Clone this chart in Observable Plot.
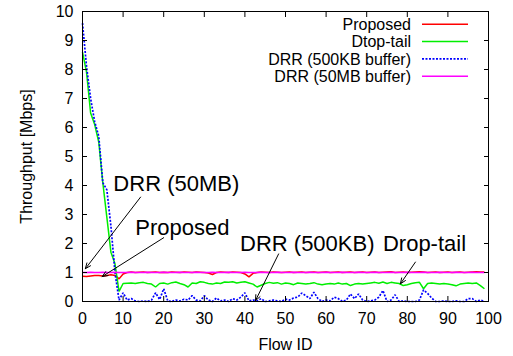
<!DOCTYPE html>
<html>
<head>
<meta charset="utf-8">
<script src="https://cdn.jsdelivr.net/npm/d3@7"></script>
<script src="https://cdn.jsdelivr.net/npm/@observablehq/plot@0.6"></script>
<style>
  html, body { margin: 0; padding: 0; background: #fff; }
  #chart { width: 513px; height: 356px; }
  svg { font-family: "Liberation Sans", Arial, sans-serif; }
</style>
</head>
<body>
<div id="chart"></div>
<script>
// Flow IDs 0..99
const flowIds = d3.range(0, 100);

const proposed = [
  0.87, 0.86, 0.88, 0.90, 0.90, 0.88, 0.90, 0.92, 0.90, 0.78,
  0.95, 1.00, 1.02, 1.00, 1.01, 1.02, 1.00, 1.01, 1.02, 1.00,
  1.01, 1.00, 1.02, 1.01, 1.00, 1.02, 1.01, 1.00, 1.02, 1.01,
  1.00, 0.98, 0.93, 1.00, 1.02, 1.01, 1.00, 1.02, 1.01, 1.00,
  0.95, 0.85, 0.97, 1.00, 1.02, 1.01, 1.00, 1.02, 1.01, 1.00,
  1.01, 1.02, 1.00, 1.01, 1.02, 1.00, 1.01, 1.02, 1.00, 1.01,
  1.02, 1.00, 1.01, 1.02, 1.00, 1.01, 1.02, 1.00, 1.01, 1.02,
  1.00, 1.01, 1.02, 1.00, 1.01, 1.02, 1.03, 1.00, 1.01, 1.02,
  1.00, 1.01, 1.02, 1.03, 1.02, 1.00, 1.01, 1.02, 1.00, 1.01,
  1.02, 1.00, 1.01, 1.02, 1.00, 1.01, 1.02, 1.03, 1.02, 1.02
];

const dropTail = [
  8.60, 7.90, 6.50, 6.10, 5.50, 4.10, 2.90, 1.70, 1.30, 0.35,
  0.62, 0.63, 0.64, 0.62, 0.65, 0.66, 0.62, 0.60, 0.50, 0.62,
  0.64, 0.60, 0.65, 0.67, 0.62, 0.58, 0.50, 0.64, 0.62, 0.68,
  0.66, 0.62, 0.60, 0.64, 0.62, 0.67, 0.66, 0.68, 0.64, 0.66,
  0.68, 0.64, 0.60, 0.50, 0.56, 0.62, 0.66, 0.63, 0.65, 0.60,
  0.64, 0.62, 0.58, 0.64, 0.62, 0.60, 0.62, 0.65, 0.60, 0.58,
  0.60, 0.62, 0.60, 0.64, 0.60, 0.62, 0.55, 0.60, 0.62, 0.60,
  0.62, 0.64, 0.66, 0.63, 0.67, 0.62, 0.66, 0.64, 0.62, 0.55,
  0.58, 0.62, 0.65, 0.66, 0.44, 0.62, 0.64, 0.62, 0.60, 0.62,
  0.60, 0.58, 0.54, 0.60, 0.62, 0.64, 0.62, 0.64, 0.55, 0.44
];

const drr500KB = [
  9.60, 8.10, 7.00, 6.20, 5.70, 4.10, 3.85, 2.60, 1.00, 0.05,
  0.30, 0.05, 0.10, 0.02, 0.00, 0.02, 0.00, 0.05, 0.30, 0.07,
  0.44, 0.02, 0.00, 0.05, 0.02, 0.08, 0.05, 0.20, 0.05, 0.02,
  0.20, 0.05, 0.00, 0.12, 0.02, 0.05, 0.00, 0.10, 0.05, 0.15,
  0.30, 0.02, 0.05, 0.02, 0.10, 0.00, 0.02, 0.05, 0.02, 0.00,
  0.08, 0.05, 0.12, 0.15, 0.29, 0.20, 0.10, 0.32, 0.10, 0.00,
  0.05, 0.02, 0.15, 0.10, 0.00, 0.05, 0.26, 0.10, 0.26, 0.05,
  0.00, 0.02, 0.05, 0.15, 0.38, 0.00, 0.05, 0.23, 0.00, 0.02,
  0.00, 0.00, 0.00, 0.05, 0.40, 0.28, 0.12, 0.00, 0.00, 0.02,
  0.00, 0.00, 0.02, 0.00, 0.00, 0.10, 0.10, 0.00, 0.05, 0.00
];

const drr50MB = [
  1.00, 1.00, 1.01, 1.00, 1.00, 1.01, 1.00, 1.00, 1.01, 1.00,
  1.00, 1.00, 1.01, 1.00, 1.00, 1.00, 1.01, 1.00, 1.00, 1.00,
  1.01, 1.00, 1.00, 1.00, 1.01, 1.00, 1.00, 1.00, 1.01, 1.00,
  1.00, 1.00, 1.01, 1.00, 1.00, 1.00, 1.01, 1.00, 1.00, 1.00,
  1.01, 1.00, 1.00, 1.00, 1.01, 1.00, 1.00, 1.00, 1.01, 1.00,
  1.00, 1.00, 1.01, 1.00, 1.00, 1.00, 1.01, 1.00, 1.00, 1.00,
  1.01, 1.00, 1.00, 1.00, 1.01, 1.00, 1.00, 1.00, 1.01, 1.00,
  1.00, 1.00, 1.01, 1.00, 1.00, 1.00, 1.01, 1.00, 1.00, 1.00,
  1.01, 1.00, 1.00, 1.00, 1.01, 1.00, 1.00, 1.00, 1.01, 1.00,
  1.00, 1.00, 1.01, 1.00, 1.00, 1.00, 1.01, 1.00, 1.00, 1.00
];

const seriesNames = ["Proposed", "Dtop-tail", "DRR (500KB buffer)", "DRR (50MB buffer)"];
const seriesColors = ["#ff0000", "#00ee00", "#0000ff", "#ff00ff"];
const seriesDash = [null, null, "2,1.5", null];
const seriesValues = [proposed, dropTail, drr500KB, drr50MB];

const xTicks = [0, 10, 20, 30, 40, 50, 60, 70, 80, 90, 100];
const yTicks = [0, 1, 2, 3, 4, 5, 6, 7, 8, 9, 10];

// Annotations: label text, label anchor point, arrow start and arrow tip (data coords)
const annLabels = ["DRR (50MB)", "Proposed", "DRR (500KB)", "Drop-tail"];
const annTextX = [7.6, 13.0, 38.8, 74.0];
const annTextY = [4.07, 2.55, 2.0, 2.0];
const annFromX = [14.3, 20.0, 48.3, 82.0];
const annFromY = [3.6, 2.2, 1.64, 1.36];
const annToX = [0.7, 4.85, 42.6, 78.3];
const annToY = [1.13, 0.86, 0.03, 0.61];

const lineData = seriesNames.map((name, i) => ({
  name, color: seriesColors[i], dash: seriesDash[i],
  points: flowIds.map((id, j) => ({id, v: seriesValues[i][j]}))
}));

const annotations = annLabels.map((label, i) => ({
  label, tx: annTextX[i], ty: annTextY[i],
  x1: annFromX[i], y1: annFromY[i], x2: annToX[i], y2: annToY[i]
}));

const fontFamily = '"Liberation Sans", Arial, sans-serif';

const marks = [];
for (const s of lineData) {
  marks.push(Plot.line(s.points, {
    x: "id", y: "v", stroke: s.color, strokeWidth: s.dash ? 1.7 : 1.5,
    strokeDasharray: s.dash || undefined, strokeLinejoin: "miter", strokeLinecap: "butt"
  }));
}
marks.push(
  Plot.arrow(annotations, {x1: "x1", y1: "y1", x2: "x2", y2: "y2",
    stroke: "black", strokeWidth: 1, headLength: 9, headAngle: 45}),
  Plot.text(annotations, {x: "tx", y: "ty", text: "label", textAnchor: "start",
    lineAnchor: "middle", fontSize: 22, fill: "black"}),
  // inward tick marks on all four sides
  Plot.axisX(xTicks, {anchor: "bottom", tickSize: 5, dy: -5, fill: "none", label: null}),
  Plot.axisX(xTicks, {anchor: "top", tickSize: 5, dy: 5, fill: "none", label: null}),
  Plot.axisY(yTicks, {anchor: "left", tickSize: 5, dx: 5, fill: "none", label: null}),
  Plot.axisY(yTicks, {anchor: "right", tickSize: 5, dx: -5, fill: "none", label: null}),
  // tick labels and axis titles
  Plot.axisX(xTicks, {anchor: "bottom", tickSize: 0, tickPadding: 11, fontSize: 16,
    label: "Flow ID", labelAnchor: "center", labelArrow: "none", labelOffset: 48}),
  Plot.axisY(yTicks, {anchor: "left", tickSize: 0, tickPadding: 9, fontSize: 16,
    label: "Throughput [Mbps]", labelAnchor: "center", labelArrow: "none", labelOffset: 62}),
  Plot.frame({stroke: "black", strokeWidth: 1})
);

const chart = Plot.plot({
  width: 513,
  height: 356,
  marginLeft: 82,
  marginRight: 25,
  marginTop: 11,
  marginBottom: 55,
  style: {fontFamily, fontSize: "16px", color: "black", background: "white"},
  x: {domain: [0, 100]},
  y: {domain: [0, 10]},
  marks
});

// Legend inside the plot, top-right (gnuplot style)
const svg = d3.select(chart);
const leg = svg.append("g").attr("font-family", fontFamily).attr("font-size", 16);
const rowY = [24.3, 41.6, 58.9, 76.2];
lineData.forEach((s, i) => {
  leg.append("text")
    .attr("x", 411).attr("y", rowY[i]).attr("dy", "0.36em")
    .attr("text-anchor", "end").attr("fill", "black")
    .text(s.name);
  leg.append("line")
    .attr("x1", 422).attr("x2", 468).attr("y1", rowY[i]).attr("y2", rowY[i])
    .attr("stroke", s.color).attr("stroke-width", s.dash ? 1.7 : 1.5)
    .attr("stroke-dasharray", s.dash);
});

document.getElementById("chart").appendChild(chart);
</script>
</body>
</html>
